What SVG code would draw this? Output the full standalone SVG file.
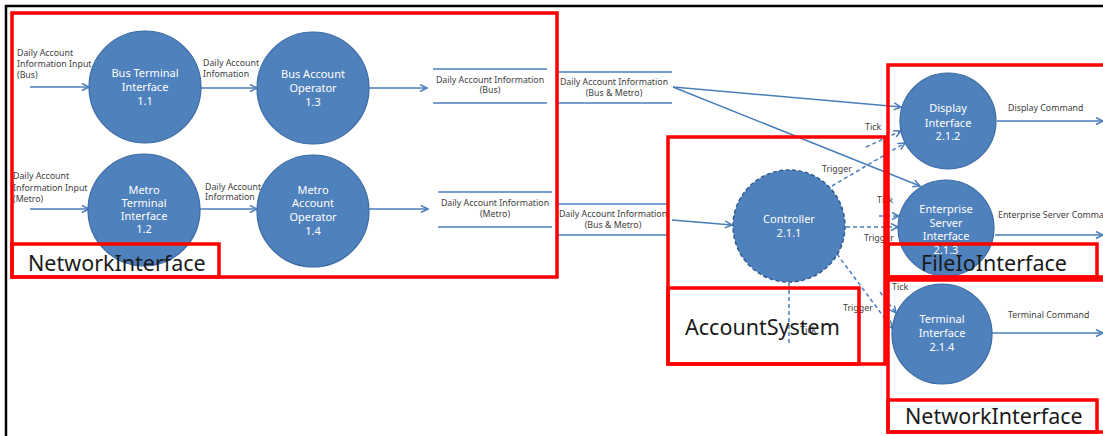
<svg xmlns="http://www.w3.org/2000/svg" width="1103" height="436" viewBox="0 0 1103 436">
  <defs>
    <marker id="arr" markerUnits="userSpaceOnUse" markerWidth="10" markerHeight="10" refX="8" refY="4" orient="auto">
      <path d="M1,0.5 L8,4 L1,7.5" fill="none" stroke="#4a7ebb" stroke-width="1.5"/>
    </marker>
    <style>
      .bg { fill: #ffffff; }
      .frame { stroke: #000000; stroke-width: 2.5; fill: none; }
      .proc { fill: #4f81bd; stroke: #3b6aa3; stroke-width: 1.2; }
      .ctrl { fill: #4f81bd; stroke: #2f5b8f; stroke-width: 1.5; stroke-dasharray: 4 2.5; }
      .ptxt { font-family: "Noto Sans", "Open Sans", sans-serif; font-size: 11px; fill: #ffffff; text-anchor: middle; }
      .lbl { font-family: "Noto Sans", "Open Sans", sans-serif; font-size: 8.8px; fill: #404040; }
      .mid { text-anchor: middle; }
      .flow { stroke: #4a7ebb; stroke-width: 1.5; fill: none; marker-end: url(#arr); }
      .ctl { stroke: #4a7ebb; stroke-width: 1.5; fill: none; stroke-dasharray: 4 3; marker-end: url(#arr); }
      .ctlplain { stroke: #4a7ebb; stroke-width: 1.5; fill: none; stroke-dasharray: 4 3; }
      .store { stroke: #4a7ebb; stroke-width: 1.5; }
      .box { fill: none; stroke: #ff0000; stroke-width: 3.5; }
      .btxt { font-family: "Noto Sans", "Open Sans", sans-serif; font-size: 21.5px; fill: #1a1a1a; }
    </style>
  </defs>

  <rect class="bg" x="0" y="0" width="1103" height="436"/>
  <path class="frame" d="M6,436 L6,6 L1103,6"/>

  <!-- data flows and control flows -->
  <g id="connectors">
    <line class="flow" x1="30" y1="87" x2="89" y2="87"/>
    <line class="flow" x1="200" y1="88" x2="257" y2="88"/>
    <line class="flow" x1="369" y1="88" x2="427" y2="88"/>
    <line class="flow" x1="30" y1="209" x2="89" y2="209"/>
    <line class="flow" x1="200" y1="209" x2="257" y2="209"/>
    <line class="flow" x1="369" y1="209" x2="428" y2="209"/>
    <line class="flow" x1="673" y1="87" x2="901" y2="107"/>
    <line class="flow" x1="673" y1="87" x2="920" y2="186"/>
    <line class="flow" x1="672" y1="220" x2="732" y2="225"/>
    <line class="ctl" x1="832" y1="186" x2="905" y2="143"/>
    <line class="ctl" x1="866" y1="147" x2="901" y2="131"/>
    <line class="ctl" x1="879" y1="216" x2="899" y2="216"/>
    <line class="ctl" x1="846" y1="227" x2="898" y2="227"/>
    <line class="ctl" x1="837" y1="254" x2="892" y2="328"/>
    <line class="ctl" x1="880" y1="292" x2="896" y2="313"/>
    <line class="ctlplain" x1="789" y1="283" x2="789" y2="346"/>
    <line class="flow" x1="997" y1="121" x2="1103" y2="121"/>
    <line class="flow" x1="995" y1="235" x2="1103" y2="235"/>
    <line class="flow" x1="992" y1="333" x2="1103" y2="333"/>

    <text class="lbl" x="17" y="56">Daily Account</text>
    <text class="lbl" x="17" y="67">Information Input</text>
    <text class="lbl" x="17" y="78">(Bus)</text>
    <text class="lbl" x="203" y="66">Daily Account</text>
    <text class="lbl" x="203" y="77">Infomation</text>
    <text class="lbl" x="13" y="179">Daily Account</text>
    <text class="lbl" x="13" y="191">Information Input</text>
    <text class="lbl" x="13" y="202">(Metro)</text>
    <text class="lbl" x="205" y="190">Daily Account</text>
    <text class="lbl" x="205" y="200">Information</text>
    <text class="lbl" x="865" y="130">Tick</text>
    <text class="lbl" x="822" y="172">Trigger</text>
    <text class="lbl" x="877" y="203">Tick</text>
    <text class="lbl" x="864" y="241">Trigger</text>
    <text class="lbl" x="843" y="311">Trigger</text>
    <text class="lbl" x="892" y="290">Tick</text>
    <text class="lbl" x="800" y="333">Tick</text>
    <text class="lbl" x="1008" y="111">Display Command</text>
    <text class="lbl" x="998" y="218">Enterprise Server Command</text>
    <text class="lbl" x="1008" y="318">Terminal Command</text>
  </g>

  <!-- data stores -->
  <g id="store-bus">
    <line class="store" x1="433" y1="69" x2="547" y2="69"/>
    <line class="store" x1="433" y1="103" x2="547" y2="103"/>
    <text class="lbl mid" x="490" y="83">Daily Account Information</text>
    <text class="lbl mid" x="490" y="93">(Bus)</text>
  </g>
  <g id="store-metro">
    <line class="store" x1="438" y1="192" x2="552" y2="192"/>
    <line class="store" x1="438" y1="227" x2="552" y2="227"/>
    <text class="lbl mid" x="495" y="206">Daily Account Information</text>
    <text class="lbl mid" x="495" y="217">(Metro)</text>
  </g>
  <g id="store-all-top">
    <line class="store" x1="557" y1="72" x2="672" y2="72"/>
    <line class="store" x1="557" y1="103" x2="672" y2="103"/>
    <text class="lbl mid" x="614" y="85">Daily Account Information</text>
    <text class="lbl mid" x="614" y="96">(Bus &amp; Metro)</text>
  </g>
  <g id="store-all-bottom">
    <line class="store" x1="557" y1="204" x2="668" y2="204"/>
    <line class="store" x1="557" y1="235" x2="668" y2="235"/>
    <text class="lbl mid" x="613" y="217">Daily Account Information</text>
    <text class="lbl mid" x="613" y="228">(Bus &amp; Metro)</text>
  </g>

  <!-- processes -->
  <g id="p1-1">
    <circle class="proc" cx="145" cy="87" r="56"/>
    <text class="ptxt" x="145" y="77">Bus Terminal</text>
    <text class="ptxt" x="145" y="91">Interface</text>
    <text class="ptxt" x="145" y="105">1.1</text>
  </g>
  <g id="p1-3">
    <circle class="proc" cx="313" cy="88" r="56"/>
    <text class="ptxt" x="313" y="78">Bus Account</text>
    <text class="ptxt" x="313" y="92">Operator</text>
    <text class="ptxt" x="313" y="106">1.3</text>
  </g>
  <g id="p1-2">
    <circle class="proc" cx="144" cy="210" r="56"/>
    <text class="ptxt" x="144" y="194">Metro</text>
    <text class="ptxt" x="144" y="207">Terminal</text>
    <text class="ptxt" x="144" y="220">Interface</text>
    <text class="ptxt" x="144" y="233">1.2</text>
  </g>
  <g id="p1-4">
    <circle class="proc" cx="313" cy="211" r="56"/>
    <text class="ptxt" x="313" y="194">Metro</text>
    <text class="ptxt" x="313" y="207">Account</text>
    <text class="ptxt" x="313" y="221">Operator</text>
    <text class="ptxt" x="313" y="235">1.4</text>
  </g>
  <g id="p2-1-1">
    <circle class="ctrl" cx="789" cy="226" r="56"/>
    <text class="ptxt" x="789" y="223">Controller</text>
    <text class="ptxt" x="789" y="237">2.1.1</text>
  </g>
  <g id="p2-1-2">
    <circle class="proc" cx="948" cy="121" r="48"/>
    <text class="ptxt" x="948" y="112">Display</text>
    <text class="ptxt" x="948" y="127">Interface</text>
    <text class="ptxt" x="948" y="140">2.1.2</text>
  </g>
  <g id="p2-1-3">
    <circle class="proc" cx="946" cy="228" r="48"/>
    <text class="ptxt" x="946" y="213">Enterprise</text>
    <text class="ptxt" x="946" y="227">Server</text>
    <text class="ptxt" x="946" y="240">Interface</text>
    <text class="ptxt" x="946" y="254">2.1.3</text>
  </g>
  <g id="p2-1-4">
    <circle class="proc" cx="942" cy="334" r="50"/>
    <text class="ptxt" x="942" y="323">Terminal</text>
    <text class="ptxt" x="942" y="337">Interface</text>
    <text class="ptxt" x="942" y="351">2.1.4</text>
  </g>

  <!-- subsystem boundaries -->
  <g id="sub-network-left">
    <rect class="box" x="12" y="13" width="545" height="264"/>
    <rect class="box" x="12" y="244" width="207" height="33"/>
    <text class="btxt" x="28" y="271">NetworkInterface</text>
  </g>
  <g id="sub-account">
    <rect class="box" x="668" y="137" width="217" height="227"/>
    <rect class="box" x="668" y="288" width="191" height="76"/>
    <text class="btxt" x="685" y="335">AccountSystem</text>
  </g>
  <g id="sub-fileio">
    <rect class="box" x="888" y="65" width="220" height="212"/>
    <rect class="box" x="888" y="244" width="209" height="33"/>
    <text class="btxt" x="921" y="271">FileIoInterface</text>
  </g>
  <g id="sub-network-right">
    <rect class="box" x="888" y="280" width="220" height="152"/>
    <rect class="box" x="888" y="400" width="209" height="32"/>
    <text class="btxt" x="905" y="424">NetworkInterface</text>
  </g>
</svg>
